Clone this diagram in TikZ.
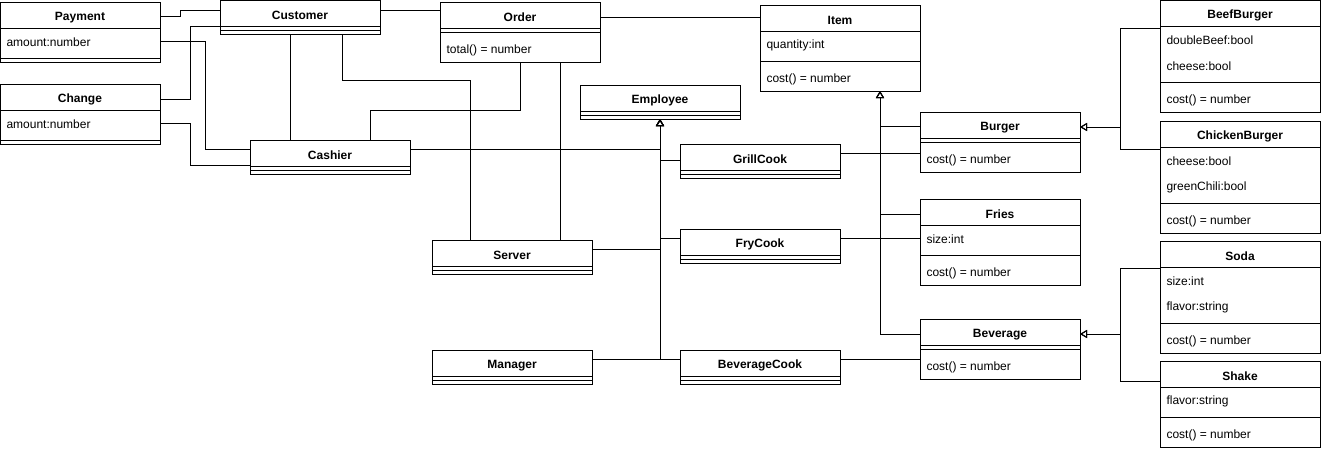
\documentclass[tikz,border=0pt]{standalone}
\usepackage{fontspec}
\setmainfont{Liberation Sans}
\usetikzlibrary{arrows.meta}

\begin{document}
\begin{tikzpicture}[x=1pt,y=-1pt,line width=1pt,
  every node/.style={font=\fontsize{12}{14}\selectfont},
  cls/.style={draw,anchor=north west,minimum width=160pt,inner sep=0pt,outer sep=0pt},
  ttl/.style={font=\fontsize{12}{14}\selectfont\bfseries,yshift=-2.5pt},
  attr/.style={anchor=west,inner sep=0pt,yshift=-1pt},
  gen/.style={-{Triangle[open,length=7pt,width=8pt]}}]
\useasboundingbox (0,0) rectangle (1321,450);
% left column
\node[cls,minimum height=60pt] (payment) at (0,2) {};
\node[ttl] at (80,15) {Payment};
\node[attr] at (6,41) {amount:number};
\draw (0,28) -- (160,28) (0,58) -- (160,58);
\node[cls,minimum height=60pt] (change) at (0,84) {};
\node[ttl] at (80,97) {Change};
\node[attr] at (6,123) {amount:number};
\draw (0,110) -- (160,110) (0,140) -- (160,140);
% customer, cashier, order
\node[cls,minimum height=34pt] (customer) at (220,0) {};
\node[ttl] at (300,13) {Customer};
\draw (220,26) -- (380,26) (220,30) -- (380,30);
\node[cls,minimum height=34pt] (cashier) at (250,140) {};
\node[ttl] at (330,153) {Cashier};
\draw (250,166) -- (410,166) (250,170) -- (410,170);
\node[cls,minimum height=60pt] (order) at (440,2) {};
\node[ttl] at (520,15) {Order};
\node[attr] at (446,49) {total() = number};
\draw (440,28) -- (600,28) (440,32) -- (600,32);
% staff
\node[cls,minimum height=34pt] (employee) at (580,85) {};
\node[ttl] at (660,98) {Employee};
\draw (580,111) -- (740,111) (580,115) -- (740,115);
\node[cls,minimum height=34pt] (server) at (432,240) {};
\node[ttl] at (512,253) {Server};
\draw (432,266) -- (592,266) (432,270) -- (592,270);
\node[cls,minimum height=34pt] (manager) at (432,350) {};
\node[ttl] at (512,363) {Manager};
\draw (432,376) -- (592,376) (432,380) -- (592,380);
\node[cls,minimum height=34pt] (grillcook) at (680,144) {};
\node[ttl] at (760,157) {GrillCook};
\draw (680,170) -- (840,170) (680,174) -- (840,174);
\node[cls,minimum height=34pt] (frycook) at (680,229) {};
\node[ttl] at (760,242) {FryCook};
\draw (680,255) -- (840,255) (680,259) -- (840,259);
\node[cls,minimum height=34pt] (bevcook) at (680,350) {};
\node[ttl] at (760,363) {BeverageCook};
\draw (680,376) -- (840,376) (680,380) -- (840,380);
% menu items
\node[cls,minimum height=86pt] (item) at (760,5) {};
\node[ttl] at (840,18) {Item};
\node[attr] at (766,44) {quantity:int};
\node[attr] at (766,78) {cost() = number};
\draw (760,31) -- (920,31) (760,61) -- (920,61);
\node[cls,minimum height=60pt] (burger) at (920,112) {};
\node[ttl] at (1000,125) {Burger};
\node[attr] at (926,159) {cost() = number};
\draw (920,138) -- (1080,138) (920,142) -- (1080,142);
\node[cls,minimum height=86pt] (fries) at (920,199) {};
\node[ttl] at (1000,212) {Fries};
\node[attr] at (926,238) {size:int};
\node[attr] at (926,272) {cost() = number};
\draw (920,225) -- (1080,225) (920,255) -- (1080,255);
\node[cls,minimum height=60pt] (beverage) at (920,319) {};
\node[ttl] at (1000,332) {Beverage};
\node[attr] at (926,366) {cost() = number};
\draw (920,345) -- (1080,345) (920,349) -- (1080,349);
% subclasses
\node[cls,minimum height=112pt] (beefburger) at (1160,0) {};
\node[ttl] at (1240,13) {BeefBurger};
\node[attr] at (1166,39) {doubleBeef:bool};
\node[attr] at (1166,65) {cheese:bool};
\node[attr] at (1166,99) {cost() = number};
\draw (1160,26) -- (1320,26) (1160,82) -- (1320,82);
\node[cls,minimum height=112pt] (chickenburger) at (1160,121) {};
\node[ttl] at (1240,134) {ChickenBurger};
\node[attr] at (1166,160) {cheese:bool};
\node[attr] at (1166,186) {greenChili:bool};
\node[attr] at (1166,220) {cost() = number};
\draw (1160,147) -- (1320,147) (1160,203) -- (1320,203);
\node[cls,minimum height=112pt] (soda) at (1160,241) {};
\node[ttl] at (1240,254) {Soda};
\node[attr] at (1166,280) {size:int};
\node[attr] at (1166,306) {flavor:string};
\node[attr] at (1166,340) {cost() = number};
\draw (1160,267) -- (1320,267) (1160,323) -- (1320,323);
\node[cls,minimum height=86pt] (shake) at (1160,361) {};
\node[ttl] at (1240,374) {Shake};
\node[attr] at (1166,400) {flavor:string};
\node[attr] at (1166,434) {cost() = number};
\draw (1160,387) -- (1320,387) (1160,417) -- (1320,417);
% associations
\draw (payment.east |- 0,16) -- (180,16) -- (180,10) -- (customer.west |- 0,10);
\draw (change.east |- 0,99) -- (190,99) -- (190,26) -- (customer.west |- 0,26);
\draw (payment.east |- 0,41) -- (205,41) -- (205,149) -- (cashier.west |- 0,149);
\draw (change.east |- 0,123) -- (190,123) -- (190,165) -- (cashier.west |- 0,165);
\draw (customer.south -| 290,0) -- (cashier.north -| 290,0);
\draw (customer.south -| 342,0) -- (342,80) -- (470,80) -- (server.north -| 470,0);
\draw (customer.east |- 0,10) -- (order.west |- 0,10);
\draw (cashier.north -| 370,0) -- (370,110) -- (520,110) -- (order.south -| 520,0);
\draw (order.south -| 560,0) -- (server.north -| 560,0);
\draw (order.east |- 0,17) -- (item.west |- 0,17);
\draw (grillcook.east |- 0,153) -- (burger.west |- 0,153);
\draw (frycook.east |- 0,238) -- (fries.west |- 0,238);
\draw (bevcook.east |- 0,359) -- (beverage.west |- 0,359);
% generalizations
\draw[gen] (cashier.east |- 0,149) -| (employee.south);
\draw[gen] (grillcook.west |- 0,160) -| (employee.south);
\draw[gen] (frycook.west |- 0,238) -| (employee.south);
\draw[gen] (server.east |- 0,249) -| (employee.south);
\draw[gen] (manager.east |- 0,359) -| (employee.south);
\draw[gen] (bevcook.west |- 0,359) -| (employee.south);
\draw[gen] (burger.west |- 0,126) -| (item.south -| 880,0);
\draw[gen] (fries.west |- 0,214) -| (item.south -| 880,0);
\draw[gen] (beverage.west |- 0,334) -| (item.south -| 880,0);
\draw[gen] (beefburger.west |- 0,28) -| (1120,127) -- (burger.east |- 0,127);
\draw[gen] (chickenburger.west |- 0,149) -| (1120,127) -- (burger.east |- 0,127);
\draw[gen] (soda.west |- 0,268) -| (1120,334) -- (beverage.east |- 0,334);
\draw[gen] (shake.west |- 0,381) -| (1120,334) -- (beverage.east |- 0,334);
\end{tikzpicture}
\end{document}
